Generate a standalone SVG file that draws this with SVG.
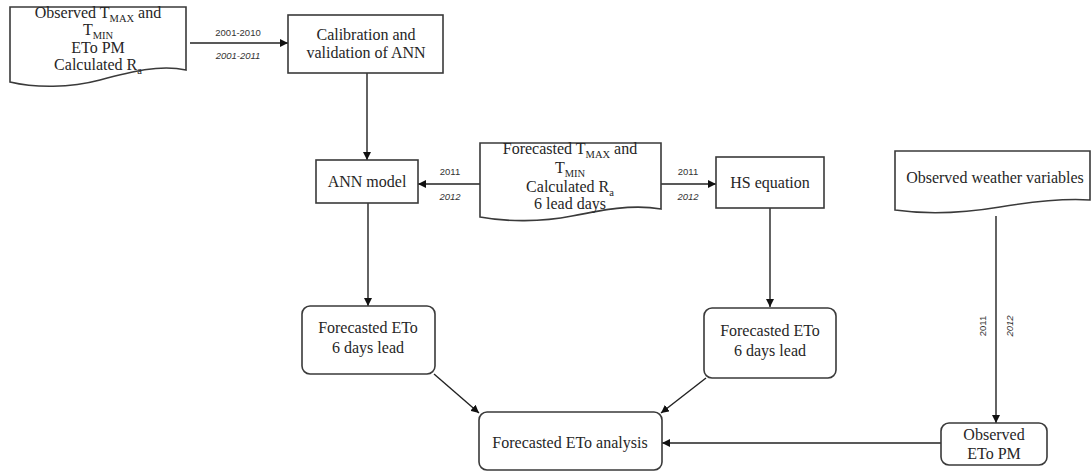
<svg xmlns="http://www.w3.org/2000/svg" width="1092" height="472" viewBox="0 0 1092 472">
  <style>
    .shape { fill: #ffffff; stroke: #3a3a3a; stroke-width: 1.6; }
    .label { font-family: "Liberation Serif", "Times New Roman", serif; font-size: 16px; fill: #262626; text-anchor: middle; }
    .sub { font-size: 10.5px; }
    .yr { font-family: "Liberation Sans", Arial, sans-serif; font-size: 9.5px; fill: #333333; text-anchor: middle; }
    .yr-i { font-style: italic; }
    .edge { fill: none; stroke: #222222; stroke-width: 1.4; marker-end: url(#arrow); }
  </style>
  <defs>
    <marker id="arrow" viewBox="0 0 10 10" refX="10" refY="5" markerWidth="8" markerHeight="8" markerUnits="userSpaceOnUse" orient="auto">
      <path d="M0,0 L10,5 L0,10 Z" fill="#111111"/>
    </marker>
  </defs>

  <rect width="1092" height="472" fill="#ffffff"/>

  <!-- connectors -->
  <g id="connectors">
    <path class="edge" d="M190,43 H288"/>
    <path class="edge" d="M367,73 V160"/>
    <path class="edge" d="M480,184 H418"/>
    <path class="edge" d="M661,184 H716"/>
    <path class="edge" d="M368,203 V306"/>
    <path class="edge" d="M770,208 V307"/>
    <path class="edge" d="M434,374 L479,413"/>
    <path class="edge" d="M706,378 L661,413"/>
    <path class="edge" d="M996,216 V423"/>
    <path class="edge" d="M941,443 H662"/>

    <text class="yr" x="238" y="36">2001-2010</text>
    <text class="yr yr-i" x="238" y="59">2001-2011</text>
    <text class="yr" x="450" y="175">2011</text>
    <text class="yr yr-i" x="450" y="200">2012</text>
    <text class="yr" x="688" y="175">2011</text>
    <text class="yr yr-i" x="688" y="200">2012</text>
    <text class="yr" transform="translate(986,326) rotate(-90)">2011</text>
    <text class="yr yr-i" transform="translate(1013,326) rotate(-90)">2012</text>
  </g>

  <!-- observed inputs (document shape) -->
  <g id="observed-inputs">
    <path class="shape" d="M10,7 H186 V70 C160,64 130,72 100,80 C70,88 35,88 10,82 Z"/>
    <text class="label" x="98" y="18">Observed T<tspan class="sub" dy="4">MAX</tspan><tspan dy="-4"> and</tspan></text>
    <text class="label" x="98" y="35">T<tspan class="sub" dy="4">MIN</tspan></text>
    <text class="label" x="98" y="53">ETo PM</text>
    <text class="label" x="98" y="70">Calculated R<tspan class="sub" dy="4">a</tspan></text>
  </g>

  <g id="calibration">
    <rect class="shape" x="288" y="15" width="155" height="58"/>
    <text class="label" x="366" y="40">Calibration and</text>
    <text class="label" x="366" y="58">validation of ANN</text>
  </g>

  <g id="ann-model">
    <rect class="shape" x="316" y="160" width="102" height="43"/>
    <text class="label" x="367" y="187">ANN model</text>
  </g>

  <!-- forecast inputs (document shape) -->
  <g id="forecast-inputs">
    <path class="shape" d="M480,143 H661 V209 C632,204 602,210 572,216 C542,222 506,222 480,217 Z"/>
    <text class="label" x="570" y="154">Forecasted T<tspan class="sub" dy="4">MAX</tspan><tspan dy="-4"> and</tspan></text>
    <text class="label" x="570" y="173">T<tspan class="sub" dy="4">MIN</tspan></text>
    <text class="label" x="570" y="192">Calculated R<tspan class="sub" dy="4">a</tspan></text>
    <text class="label" x="570" y="209">6 lead days</text>
  </g>

  <g id="hs-equation">
    <rect class="shape" x="716" y="157" width="108" height="51"/>
    <text class="label" x="770" y="188">HS equation</text>
  </g>

  <!-- observed weather (document shape) -->
  <g id="observed-weather">
    <path class="shape" d="M895,151 H1090 V200 C1060,198 1030,202 1000,207 C970,212 930,215 895,210 Z"/>
    <text class="label" x="995" y="183">Observed weather variables</text>
  </g>

  <g id="ann-forecast">
    <rect class="shape" x="302" y="306" width="133" height="68" rx="8"/>
    <text class="label" x="368" y="333">Forecasted ETo</text>
    <text class="label" x="368" y="353">6 days lead</text>
  </g>

  <g id="hs-forecast">
    <rect class="shape" x="704" y="308" width="132" height="70" rx="8"/>
    <text class="label" x="770" y="336">Forecasted ETo</text>
    <text class="label" x="770" y="356">6 days lead</text>
  </g>

  <g id="analysis">
    <rect class="shape" x="479" y="412" width="183" height="58" rx="8"/>
    <text class="label" x="570" y="448">Forecasted ETo analysis</text>
  </g>

  <g id="observed-eto">
    <rect class="shape" x="941" y="423" width="106" height="42" rx="8"/>
    <text class="label" x="994" y="440">Observed</text>
    <text class="label" x="994" y="459">ETo PM</text>
  </g>
</svg>
